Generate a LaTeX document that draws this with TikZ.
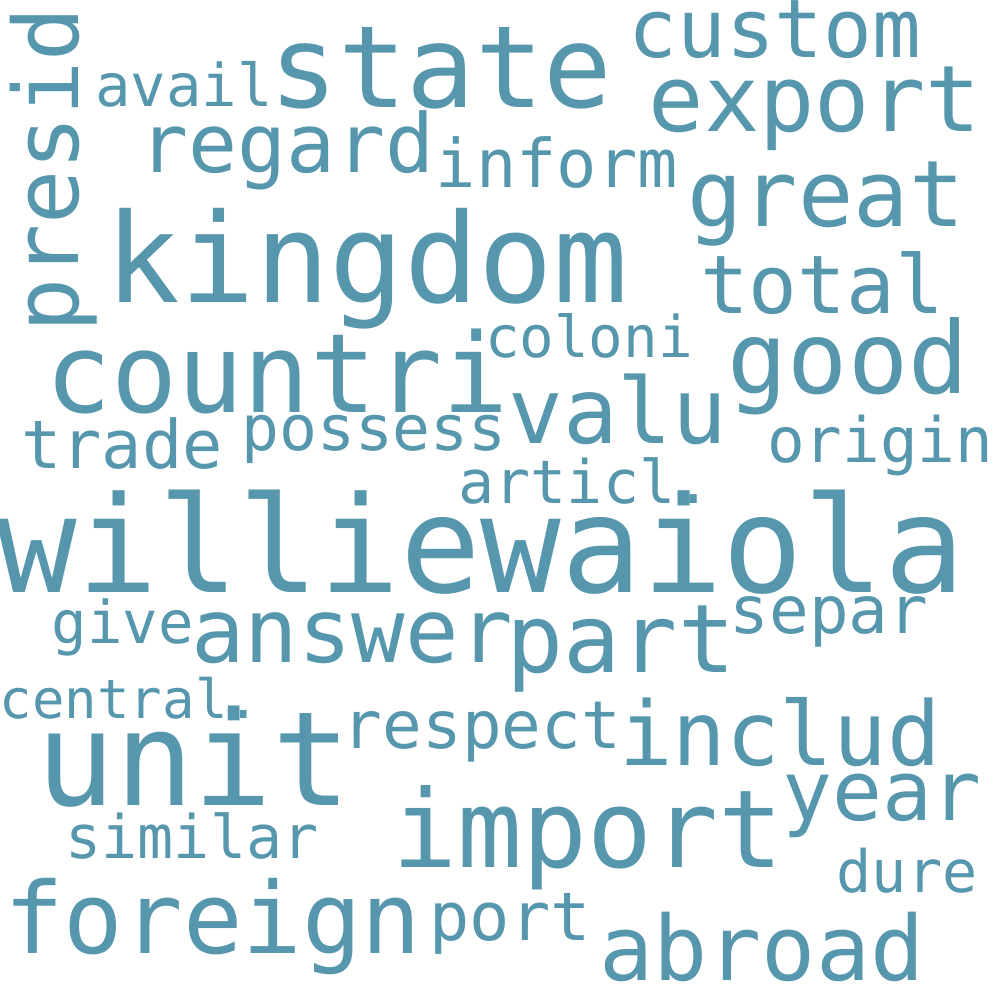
\documentclass[tikz,border=0pt]{standalone}
\usepackage{fontspec}
\setmonofont{DejaVu Sans Mono}
\usetikzlibrary{positioning}
\definecolor{cloudblue}{RGB}{87,151,174}
\tikzset{
  cloud/.style={x=1pt, y=-1pt}, % pixel grid, y pointing down
  word/.style={text=cloudblue, anchor=base, inner sep=0pt,
    font=\ttfamily\fontsize{#1}{#1}\selectfont}, % #1 = font size
}

\begin{document}
\begin{tikzpicture}[cloud]
\useasboundingbox (0,0) rectangle (1000,1000);
% top band
\node[word=90, rotate=90] (presid) at (78,170) {presid};
\node[word=59] (avail) at (184,107) {avail};
\node[word=114] (state) at (441,108) {state};
\node[word=81] (custom) at (775,58) {custom};
\node[word=92] (export) at (815,132) {export};
\node[word=81.5] (regard) at (287,173) {regard};
\node[word=67] (inform) at (557,188) {inform};
\node[word=124] (kingdom) at (367,302) {kingdom};
\node[word=92] (great) at (826,227) {great};
\node[word=81] (total) at (822,313) {total};
% middle band
\node[word=57.5] (coloni) at (589,357) {coloni};
\node[word=110] (countri) at (277,412) {countri};
\node[word=100] (good) at (848,393) {good};
\node[word=91] (valu) at (618,443) {valu};
\node[word=63] (possess) at (374,450) {possess};
\node[word=67] (trade) at (122,468) {trade};
\node[word=62.5] (origin) at (880,462) {origin};
\node[word=60] (articl) at (585,503) {articl.};
\node[word=134] (williewaiola) at (481,592) {williewaiola};
\node[word=59] (give) at (123,643) {give};
\node[word=89] (answer) at (352,662) {answer};
\node[word=95] (part) at (621,672) {part};
\node[word=66] (separ) at (829,633) {separ};
% bottom band
\node[word=54] (central) at (130,718) {central.};
\node[word=131] (unit) at (194,805) {unit};
\node[word=66] (respect) at (482,748) {respect};
\node[word=89] (includ) at (780,765) {includ};
\node[word=108] (import) at (588,867) {import};
\node[word=83] (year) at (882,820) {year};
\node[word=60] (similar) at (192,858) {similar};
\node[word=58.5] (dure) at (907,892) {dure};
\node[word=99] (foreign) at (213,953) {foreign};
\node[word=67] (port) at (510,940) {port};
\node[word=90] (abroad) at (762,980) {abroad};
\end{tikzpicture}
\end{document}
